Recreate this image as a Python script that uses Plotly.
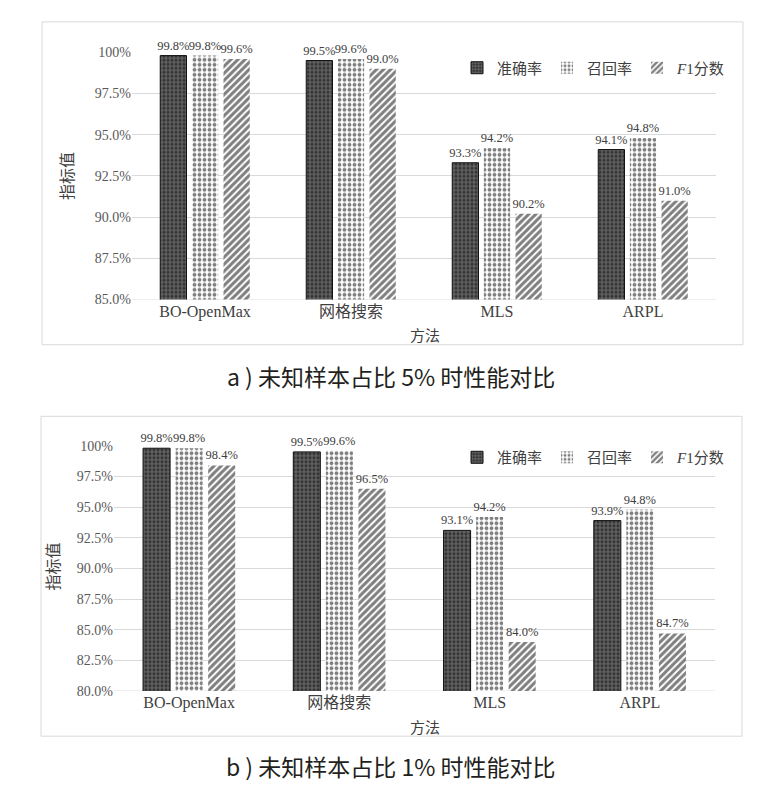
import plotly.graph_objects as go

# categories and series (values in %)
methods = ["BO-OpenMax", "网格搜索", "MLS", "ARPL"]
series_names = ["准确率", "召回率", "<i>F</i>1分数"]

acc_5 = [99.8, 99.5, 93.3, 94.1]
rec_5 = [99.8, 99.6, 94.2, 94.8]
f1_5 = [99.6, 99.0, 90.2, 91.0]

acc_1 = [99.8, 99.5, 93.1, 93.9]
rec_1 = [99.8, 99.6, 94.2, 94.8]
f1_1 = [98.4, 96.5, 84.0, 84.7]

ticks_5 = [85.0, 87.5, 90.0, 92.5, 95.0, 97.5, 100.0]
ticks_1 = [80.0, 82.5, 85.0, 87.5, 90.0, 92.5, 95.0, 97.5, 100.0]

titles = ["a ) 未知样本占比 5% 时性能对比", "b ) 未知样本占比 1% 时性能对比"]

W, H = 773, 799
OFF = 8  # page margin of the html body
SERIF = "Liberation Serif, Times New Roman, serif"
CJK = "Noto Sans CJK SC"

patterns = [
    dict(shape="+", fgcolor="#c8c8c8", bgcolor="#333333", size=4, solidity=0.35),
    dict(shape=".", fgcolor="#000000", bgcolor="white", size=5, solidity=0.45),
    dict(shape="/", fgcolor="#000000", bgcolor="white", size=5, solidity=0.6),
]
lines = [dict(color="#111111", width=1), dict(width=0), dict(width=0)]


def px_x(v):
    return (v - OFF) / W


def px_y(v):
    return 1 - (v - OFF) / H


def tick_text(vals):
    return ["100%" if v == 100 else f"{v:.1f}%" for v in vals]


fig = go.Figure()

panels = [
    dict(data=[acc_5, rec_5, f1_5], xa="x", ya="y", leg="legend"),
    dict(data=[acc_1, rec_1, f1_1], xa="x2", ya="y2", leg="legend2"),
]

for p in panels:
    for i, vals in enumerate(p["data"]):
        fig.add_trace(go.Bar(
            x=methods, y=vals, name=series_names[i],
            xaxis=p["xa"], yaxis=p["ya"], legend=p["leg"],
            marker=dict(pattern=patterns[i], line=lines[i], color=patterns[i]["bgcolor"]),
            text=[f"{v:.1f}%" for v in vals], textposition="outside",
            constraintext="none",
            textfont=dict(family=SERIF, size=12.5, color="#404040"),
            cliponaxis=False,
        ))

axis_common = dict(
    showgrid=False, showline=False, ticks="", type="category",
    tickfont=dict(family=SERIF + ", " + CJK, size=16, color="#404040"),
)
yaxis_common = dict(
    showgrid=True, gridcolor="#d9d9d9", gridwidth=1, zeroline=False, showline=False,
    tickfont=dict(family=SERIF, size=14, color="#595959"), ticks="",
)
legend_common = dict(
    orientation="h", xanchor="right", yanchor="middle",
    font=dict(family=SERIF + ", " + CJK, size=15, color="#404040"),
    bgcolor="rgba(0,0,0,0)", itemwidth=30, traceorder="normal",
)

fig.update_layout(
    width=W, height=H, paper_bgcolor="white", plot_bgcolor="white",
    margin=dict(l=0, r=0, t=0, b=0),
    barmode="group", bargap=0.35, bargroupgap=0.17,
    xaxis=dict(domain=[px_x(132), px_x(716)], anchor="y", **axis_common),
    yaxis=dict(domain=[px_y(298), px_y(46)], anchor="x", range=[85, 100],
               tickvals=ticks_5, ticktext=tick_text(ticks_5), **yaxis_common),
    xaxis2=dict(domain=[px_x(114), px_x(715)], anchor="y2", **axis_common),
    yaxis2=dict(domain=[px_y(697), px_y(447)], anchor="x2", range=[80, 100],
                tickvals=ticks_1, ticktext=tick_text(ticks_1), **yaxis_common),
    legend=dict(x=px_x(730), y=px_y(62), **legend_common),
    legend2=dict(x=px_x(730), y=px_y(459), **legend_common),
    font=dict(family=CJK),
)

# grey baseline of each plot
for xd, ya, base in [("x domain", "y", 85), ("x2 domain", "y2", 80)]:
    fig.add_shape(type="line", xref=xd, yref=ya, x0=0, x1=1, y0=base, y1=base,
                  line=dict(color="#d9d9d9", width=1), layer="below")

# panel borders
for (x0, y0, x1, y1) in [(42, 15, 743, 344), (41, 417, 742, 743)]:
    fig.add_shape(type="rect", xref="paper", yref="paper",
                  x0=px_x(x0), x1=px_x(x1), y0=px_y(y1), y1=px_y(y0),
                  line=dict(color="#d9d9d9", width=1), fillcolor="rgba(0,0,0,0)")

# axis titles
for (yx, yy, mx, my) in [(66, 172, 425, 334), (52, 570, 425, 733)]:
    fig.add_annotation(text="指标值", xref="paper", yref="paper", x=px_x(yx), y=px_y(yy),
                       xanchor="center", yanchor="middle", textangle=-90, showarrow=False,
                       font=dict(family=CJK, size=16, color="#404040"))
    fig.add_annotation(text="方法", xref="paper", yref="paper", x=px_x(mx), y=px_y(my),
                       xanchor="center", yanchor="middle", showarrow=False,
                       font=dict(family=CJK, size=15, color="#404040"))

# figure captions
for t, cy in zip(titles, [376, 773]):
    fig.add_annotation(text=t, xref="paper", yref="paper", x=px_x(391), y=px_y(cy),
                       xanchor="center", yanchor="middle", showarrow=False,
                       font=dict(family=CJK, size=23, color="#231f20"))

fig.write_html("out.html")
